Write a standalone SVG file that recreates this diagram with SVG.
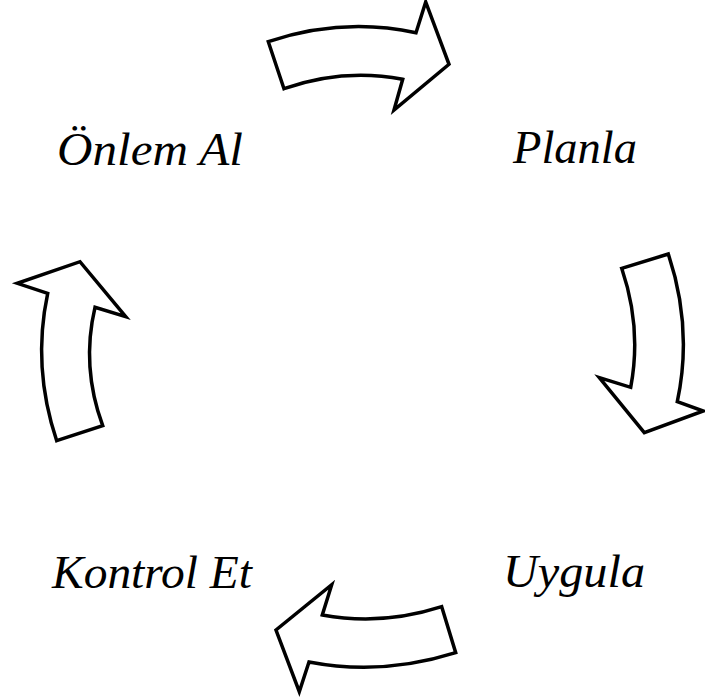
<svg xmlns="http://www.w3.org/2000/svg" width="705" height="698" viewBox="0 0 705 698">
<style>
.arr{fill:#ffffff;stroke:#000000;stroke-width:3.5;stroke-linejoin:miter}
.lbl{font-family:"Liberation Serif","DejaVu Serif",serif;font-style:italic;font-size:46px;fill:#000000}
</style>
<rect width="705" height="698" fill="#ffffff"/>
<g id="connectors">
<path id="arrow-top" class="arr" d="M268.3,41.7 Q342,17 416,32.7 L425.7,2 L449,64.3 L394,110 L402.7,79.3 Q343,68 284,88.7 Z"/>
<path id="arrow-right" class="arr" d="M621.7,268.3 L668.3,254 Q693,328 677.3,401.7 L703.3,411 L644.3,432.7 L599.3,377.7 L630.7,387.3 Q642,328 621.7,268.3 Z"/>
<path id="arrow-bottom" class="arr" d="M441.7,606.7 L455.7,652.7 Q382,676 309,662 L299.3,691.7 L276,630 L331.7,584.7 L322.3,615 Q382,626 441.7,606.7 Z"/>
<path id="arrow-left" class="arr" d="M56.7,440.7 L102.7,425.7 Q81,366.5 95,307.3 L125.7,316.7 L80,261.7 L17.3,283.3 L47.7,293.3 Q32,367 56.7,440.7 Z"/>
</g>
<g id="node-onlem-al"><text class="lbl" x="57" y="165" textLength="186" lengthAdjust="spacingAndGlyphs">Önlem Al</text></g>
<g id="node-planla"><text class="lbl" x="513" y="163" textLength="124" lengthAdjust="spacingAndGlyphs">Planla</text></g>
<g id="node-uygula"><text class="lbl" x="503" y="587" textLength="142" lengthAdjust="spacingAndGlyphs">Uygula</text></g>
<g id="node-kontrol-et"><text class="lbl" x="52" y="588" textLength="200" lengthAdjust="spacingAndGlyphs">Kontrol Et</text></g>
</svg>
